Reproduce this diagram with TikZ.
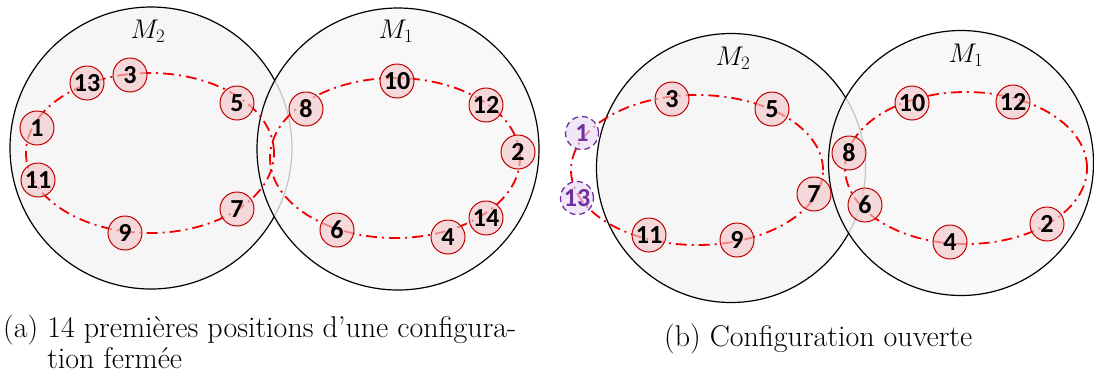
\RequirePackage{fix-cm}
\documentclass[tikz,border=0pt]{standalone}
\usepackage{fontspec}
\newfontfamily\numfont{Carlito}
\definecolor{zonefill}{HTML}{F6F6F6}
\definecolor{posfill}{HTML}{F4C7C9}
\definecolor{posdraw}{HTML}{C00000}
\definecolor{ghostc}{HTML}{7030A0}
\definecolor{ghostfill}{HTML}{E6D9F2}
\definecolor{trajc}{HTML}{F00000}
\tikzset{
  zone/.style={circle, draw=black, line width=1.2pt, fill=zonefill, inner sep=0pt},
  zonetop/.style={zone, fill opacity=0.8, draw opacity=1},
  posnode/.style={circle, draw=posdraw, line width=1pt, fill=posfill, fill opacity=0.65,
    text opacity=1, minimum size=34pt, inner sep=0pt,
    font=\numfont\bfseries\fontsize{26}{26}\selectfont},
  ghostnode/.style={posnode, draw=ghostc, line width=1.3pt, dash pattern=on 6pt off 4pt, fill=ghostfill, text=ghostc, minimum size=33pt},
  traj/.style={trajc, line width=1.8pt, dash pattern=on 11pt off 5pt on 2pt off 5pt},
  mlab/.style={font=\fontsize{27}{27}\selectfont},
  captext/.style={font=\fontsize{30}{31}\selectfont, inner sep=0pt}
}
\begin{document}
\begin{tikzpicture}[x=1pt,y=-1pt]
\useasboundingbox (0,0) rectangle (1094,376);
% ---------- (a) ----------
\node[zone, minimum size=282pt] (M2a) at (151,148) {};
\node[zonetop, minimum size=282pt] (M1a) at (398,149) {};
\node[mlab] (lM2a) at (148,31) {$M_2$};
\node[mlab] (lM1a) at (396,31) {$M_1$};
\draw[traj] (150,153) ellipse[x radius=124pt, y radius=80pt];
\draw[traj] (395,158) ellipse[x radius=125pt, y radius=80pt];
\node[posnode] (a1) at (37,128) {1};
\node[posnode] (a13) at (87,83) {13};
\node[posnode] (a3) at (130,75) {3};
\node[posnode] (a5) at (237,103) {5};
\node[posnode] (a11) at (38,180) {11};
\node[posnode] (a9) at (125,233) {9};
\node[posnode] (a7) at (237,209) {7};
\node[posnode] (a8) at (306,109) {8};
\node[posnode] (a10) at (397,81) {10};
\node[posnode] (a12) at (486,105) {12};
\node[posnode] (a2) at (518,152) {2};
\node[posnode] (a14) at (486,218) {14};
\node[posnode] (a4) at (448,237) {4};
\node[posnode] (a6) at (337,230) {6};
\node[captext, anchor=base west, align=left] (capa) at (3,368)
  {(a)~14 premi\`eres positions d'une configura-\\\phantom{(a)~}tion ferm\'ee};
% ---------- (b) ----------
\node[zone, minimum size=269pt] (M2b) at (731,168) {};
\node[zonetop, minimum size=265pt] (M1b) at (961,163) {};
\node[mlab] (lM2b) at (733,58) {$M_2$};
\node[mlab] (lM1b) at (966,55) {$M_1$};
\draw[traj] (697,170) ellipse[x radius=126pt, y radius=75pt];
\draw[traj] (966,168) ellipse[x radius=121pt, y radius=76pt];
\node[ghostnode] (b1) at (582,133) {1};
\node[ghostnode] (b13) at (577,198) {13};
\node[posnode] (b3) at (672,99) {3};
\node[posnode] (b5) at (772,109) {5};
\node[posnode] (b7) at (814,194) {7};
\node[posnode] (b9) at (737,240) {9};
\node[posnode] (b11) at (649,235) {11};
\node[posnode] (b8) at (849,153) {8};
\node[posnode] (b6) at (865,205) {6};
\node[posnode] (b10) at (912,103) {10};
\node[posnode] (b12) at (1013,102) {12};
\node[posnode] (b2) at (1047,224) {2};
\node[posnode] (b4) at (950,242) {4};
\node[captext, anchor=base west] (capb) at (664,346) {(b) Configuration ouverte};
\end{tikzpicture}
\end{document}
